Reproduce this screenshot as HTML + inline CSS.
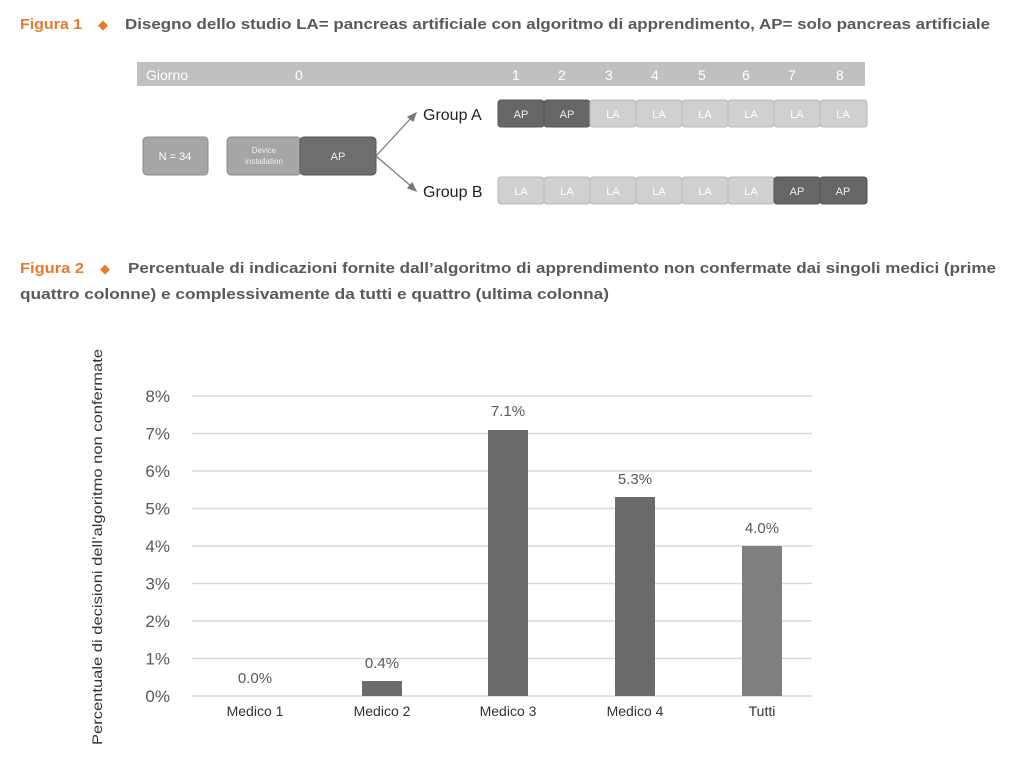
<!DOCTYPE html>
<html><head><meta charset="utf-8"><style>
html,body{margin:0;padding:0;background:#fff;}
svg{display:block;font-family:"Liberation Sans",sans-serif;}
</style></head><body>
<svg width="1024" height="779" viewBox="0 0 1024 779" xmlns="http://www.w3.org/2000/svg">
<text x="20" y="29" font-size="15" font-weight="bold" fill="#e8792e" textLength="62" lengthAdjust="spacingAndGlyphs">Figura 1</text>
<text x="98" y="29" font-size="13" fill="#e8792e">◆</text>
<text x="125" y="29" font-size="15" font-weight="bold" fill="#58595b" textLength="865" lengthAdjust="spacingAndGlyphs">Disegno dello studio LA= pancreas artificiale con algoritmo di apprendimento, AP= solo pancreas artificiale</text>

<rect x="137" y="62" width="728" height="24" fill="#c0c0c0"/>
<g fill="#fff" font-size="14">
<text x="146" y="80">Giorno</text>
<text x="295" y="80">0</text>
<text x="512" y="80">1</text>
<text x="558" y="80">2</text>
<text x="605" y="80">3</text>
<text x="651" y="80">4</text>
<text x="698" y="80">5</text>
<text x="742" y="80">6</text>
<text x="788" y="80">7</text>
<text x="836" y="80">8</text>
</g>

<rect x="143" y="137" width="65" height="38" rx="4" fill="#a6a6a6" stroke="#8a8a8a"/>
<text x="175" y="160" font-size="11" fill="#fff" text-anchor="middle">N = 34</text>
<rect x="227" y="137" width="74" height="38" rx="4" fill="#a6a6a6" stroke="#8a8a8a"/>
<text x="264" y="153" font-size="8" fill="#eee" text-anchor="middle">Device</text>
<text x="264" y="164" font-size="8" fill="#eee" text-anchor="middle">installation</text>
<rect x="300" y="137" width="76" height="38" rx="4" fill="#6e6e6e" stroke="#555"/>
<text x="338" y="160" font-size="11" fill="#eee" text-anchor="middle">AP</text>

<g stroke="#777" stroke-width="1.2" fill="#777">
<line x1="376" y1="156" x2="412" y2="117"/>
<polygon points="416,113 408,117 413,121"/>
<line x1="376" y1="156" x2="412" y2="187"/>
<polygon points="416,191 408,188 412,183"/>
</g>
<text x="423" y="120" font-size="16" fill="#222">Group A</text>
<text x="423" y="197" font-size="16" fill="#222">Group B</text>

<g font-size="11" text-anchor="middle">
<rect x="498" y="100" width="46" height="27" rx="3" fill="#666" stroke="#555"/><text x="521" y="118" fill="#eee">AP</text>
<rect x="544" y="100" width="46" height="27" rx="3" fill="#666" stroke="#555"/><text x="567" y="118" fill="#eee">AP</text>
<rect x="590" y="100" width="46" height="27" rx="3" fill="#d0d0d0" stroke="#b8b8b8"/><text x="613" y="118" fill="#fff">LA</text>
<rect x="636" y="100" width="46" height="27" rx="3" fill="#d0d0d0" stroke="#b8b8b8"/><text x="659" y="118" fill="#fff">LA</text>
<rect x="682" y="100" width="46" height="27" rx="3" fill="#d0d0d0" stroke="#b8b8b8"/><text x="705" y="118" fill="#fff">LA</text>
<rect x="728" y="100" width="46" height="27" rx="3" fill="#d0d0d0" stroke="#b8b8b8"/><text x="751" y="118" fill="#fff">LA</text>
<rect x="774" y="100" width="46" height="27" rx="3" fill="#d0d0d0" stroke="#b8b8b8"/><text x="797" y="118" fill="#fff">LA</text>
<rect x="820" y="100" width="47" height="27" rx="3" fill="#d0d0d0" stroke="#b8b8b8"/><text x="843" y="118" fill="#fff">LA</text>

<rect x="498" y="177" width="46" height="27" rx="3" fill="#d0d0d0" stroke="#b8b8b8"/><text x="521" y="195" fill="#fff">LA</text>
<rect x="544" y="177" width="46" height="27" rx="3" fill="#d0d0d0" stroke="#b8b8b8"/><text x="567" y="195" fill="#fff">LA</text>
<rect x="590" y="177" width="46" height="27" rx="3" fill="#d0d0d0" stroke="#b8b8b8"/><text x="613" y="195" fill="#fff">LA</text>
<rect x="636" y="177" width="46" height="27" rx="3" fill="#d0d0d0" stroke="#b8b8b8"/><text x="659" y="195" fill="#fff">LA</text>
<rect x="682" y="177" width="46" height="27" rx="3" fill="#d0d0d0" stroke="#b8b8b8"/><text x="705" y="195" fill="#fff">LA</text>
<rect x="728" y="177" width="46" height="27" rx="3" fill="#d0d0d0" stroke="#b8b8b8"/><text x="751" y="195" fill="#fff">LA</text>
<rect x="774" y="177" width="46" height="27" rx="3" fill="#666" stroke="#555"/><text x="797" y="195" fill="#eee">AP</text>
<rect x="820" y="177" width="47" height="27" rx="3" fill="#666" stroke="#555"/><text x="843" y="195" fill="#eee">AP</text>
</g>

<text x="20" y="273" font-size="15" font-weight="bold" fill="#e8792e" textLength="64" lengthAdjust="spacingAndGlyphs">Figura 2</text>
<text x="100" y="273" font-size="13" fill="#e8792e">◆</text>
<text x="128" y="273" font-size="15" font-weight="bold" fill="#58595b" textLength="868" lengthAdjust="spacingAndGlyphs">Percentuale di indicazioni fornite dall’algoritmo di apprendimento non confermate dai singoli medici (prime</text>
<text x="20" y="299" font-size="15" font-weight="bold" fill="#58595b" textLength="589" lengthAdjust="spacingAndGlyphs">quattro colonne) e complessivamente da tutti e quattro (ultima colonna)</text>

<g stroke="#d9d9d9" stroke-width="1.5">
<line x1="192" y1="396" x2="812" y2="396"/>
<line x1="192" y1="433.5" x2="812" y2="433.5"/>
<line x1="192" y1="471" x2="812" y2="471"/>
<line x1="192" y1="508.5" x2="812" y2="508.5"/>
<line x1="192" y1="546" x2="812" y2="546"/>
<line x1="192" y1="583.5" x2="812" y2="583.5"/>
<line x1="192" y1="621" x2="812" y2="621"/>
<line x1="192" y1="658.5" x2="812" y2="658.5"/>
<line x1="192" y1="696" x2="812" y2="696"/>
</g>
<g font-size="17" fill="#595959" text-anchor="end">
<text x="170" y="402">8%</text>
<text x="170" y="439.5">7%</text>
<text x="170" y="477">6%</text>
<text x="170" y="514.5">5%</text>
<text x="170" y="552">4%</text>
<text x="170" y="589.5">3%</text>
<text x="170" y="627">2%</text>
<text x="170" y="664.5">1%</text>
<text x="170" y="702">0%</text>
</g>
<text transform="translate(102,547) rotate(-90)" font-size="14" fill="#333" text-anchor="middle" textLength="396" lengthAdjust="spacingAndGlyphs">Percentuale di decisioni dell’algoritmo non confermate</text>

<rect x="362" y="681" width="40" height="15" fill="#6b6b6b"/>
<rect x="488" y="430" width="40" height="266" fill="#6b6b6b"/>
<rect x="615" y="497" width="40" height="199" fill="#6b6b6b"/>
<rect x="742" y="546" width="40" height="150" fill="#7f7f7f"/>

<g font-size="15" fill="#595959" text-anchor="middle">
<text x="255" y="683">0.0%</text>
<text x="382" y="668">0.4%</text>
<text x="508" y="416">7.1%</text>
<text x="635" y="484">5.3%</text>
<text x="762" y="533">4.0%</text>
</g>
<g font-size="14" fill="#333" text-anchor="middle">
<text x="255" y="716">Medico 1</text>
<text x="382" y="716">Medico 2</text>
<text x="508" y="716">Medico 3</text>
<text x="635" y="716">Medico 4</text>
<text x="762" y="716">Tutti</text>
</g>
</svg>
</body></html>
